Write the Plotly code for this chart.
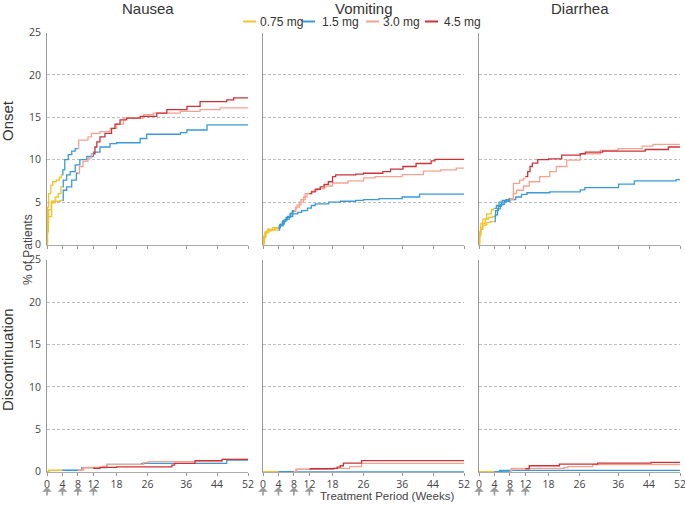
import plotly.graph_objects as go

# ---------------- data (weeks, cumulative % of patients) ----------------
WEEK_TICKS = [0, 4, 8, 12, 18, 26, 36, 44, 52]
Y_TICKS = [0, 5, 10, 15, 20, 25]
SYMPTOMS = ["Nausea", "Vomiting", "Diarrhea"]
ROWS = ["Onset", "Discontinuation"]
DOSES = ["0.75 mg", "1.5 mg", "3.0 mg", "4.5 mg"]
DOSE_START_WEEK = [0, 4, 8, 12]          # escalation schedule
DOSE_COLORS = ["#F2C32A", "#3A9AD6", "#F5A391", "#CB3338"]
ARM_TARGET = {"1.5": 1, "3.0": 2, "4.5": 3}  # index of final dose

# Nausea – onset
NAU_ON_15_WK = [0, 0.15, 0.35, 1.2, 2.1, 2.9, 3.6, 4.2, 5.1, 6.0, 7.3, 8.5, 10.3, 12.0, 13.7, 16.3, 18.0, 24.1, 25.8, 34.5, 36.2, 41.4, 52]
NAU_ON_15_PCT = [0, 1.5, 3.3, 4.9, 5.6, 6.0, 6.8, 7.6, 8.2, 8.6, 9.4, 10.0, 10.4, 10.9, 11.5, 11.9, 12.0, 12.5, 13.0, 13.2, 13.5, 14.1, 14.2]
NAU_ON_30_WK = [0, 0.05, 0.15, 0.4, 1.0, 1.5, 2.4, 3.2, 3.7, 4.1, 4.6, 5.5, 6.4, 7.3, 8.2, 10.6, 11.5, 13.7, 16.3, 18.0, 19.8, 25.0, 27.5, 34.5, 39.6, 44.8, 52]
NAU_ON_30_PCT = [0, 2.0, 4.4, 6.0, 7.0, 7.4, 7.6, 7.9, 8.2, 8.8, 10.0, 10.6, 11.0, 11.3, 12.3, 12.7, 13.1, 13.3, 13.7, 14.2, 14.9, 15.3, 15.5, 15.7, 15.9, 16.1, 16.1]
NAU_ON_45_WK = [0, 0.1, 0.4, 1.1, 3.5, 4.2, 5.1, 6.4, 7.6, 8.4, 9.3, 10.6, 11.5, 12.4, 12.9, 13.7, 15.0, 16.7, 17.6, 18.9, 20.6, 24.1, 28.4, 31.0, 36.2, 39.6, 46.5, 48.3, 52]
NAU_ON_45_PCT = [0, 2.1, 4.1, 5.1, 5.2, 6.4, 6.8, 7.6, 8.4, 9.2, 9.8, 10.2, 10.7, 11.5, 12.1, 12.7, 13.1, 13.7, 14.2, 14.7, 14.9, 15.1, 15.5, 15.9, 16.3, 16.85, 17.05, 17.3, 17.3]

# Nausea – discontinuation
NAU_DC_15_WK = [0, 0.5, 9.0, 15.5, 24.5, 46.5, 52]
NAU_DC_15_PCT = [0, 0.15, 0.47, 0.87, 0.98, 1.38, 1.38]
NAU_DC_30_WK = [0, 0.5, 8.3, 9.3, 14.5, 15.5, 25.0, 26.2, 45.3, 52]
NAU_DC_30_PCT = [0, 0.15, 0.2, 0.5, 0.65, 0.87, 1.06, 1.18, 1.46, 1.46]
NAU_DC_45_WK = [0, 0.5, 8.2, 9.5, 12.1, 13.7, 18.0, 32.3, 33.0, 38.3, 45.3, 52]
NAU_DC_45_PCT = [0, 0.15, 0.2, 0.45, 0.4, 0.5, 0.57, 0.78, 0.98, 1.3, 1.46, 1.42]

# Vomiting – onset
VOM_ON_15_WK = [0, 0.3, 0.6, 1.0, 2.0, 4.3, 5.0, 5.8, 6.8, 7.7, 9.0, 10.0, 11.5, 12.5, 13.5, 17.0, 20.0, 24.0, 26.0, 30.0, 36.0, 40.5, 52]
VOM_ON_15_PCT = [0, 0.8, 1.3, 1.6, 1.7, 2.3, 2.7, 3.0, 3.3, 3.6, 3.8, 4.0, 4.3, 4.6, 4.8, 5.0, 5.1, 5.2, 5.3, 5.4, 5.6, 5.95, 6.0]
VOM_ON_30_WK = [0, 0.2, 0.5, 1.2, 2.5, 4.5, 5.5, 6.3, 7.2, 7.8, 8.5, 8.8, 9.8, 10.9, 12.5, 13.9, 16.0, 18.0, 22.0, 26.0, 29.0, 36.0, 41.5, 46.0, 50.0, 52]
VOM_ON_30_PCT = [0, 1.0, 1.5, 1.8, 2.0, 2.4, 2.9, 3.3, 3.7, 3.9, 4.3, 4.65, 5.3, 6.0, 6.3, 6.6, 6.9, 7.25, 7.5, 7.85, 8.0, 8.25, 8.65, 8.8, 9.0, 9.0]
VOM_ON_45_WK = [0, 0.4, 0.8, 1.5, 3.0, 4.2, 5.2, 6.0, 7.0, 7.6, 8.4, 9.4, 10.5, 11.4, 12.6, 13.5, 14.8, 15.8, 16.9, 18.0, 18.8, 24.0, 26.0, 31.0, 33.0, 36.2, 39.6, 43.5, 44.5, 52]
VOM_ON_45_PCT = [0, 0.9, 1.4, 1.7, 1.9, 2.2, 2.8, 3.2, 3.6, 4.0, 4.4, 5.0, 5.6, 6.0, 6.2, 6.5, 6.8, 7.1, 7.4, 8.0, 8.2, 8.3, 8.4, 8.6, 8.9, 9.2, 9.55, 9.85, 10.05, 10.1]

# Vomiting – discontinuation
VOM_DC_15_WK = [0, 52]
VOM_DC_15_PCT = [0, 0]
VOM_DC_30_WK = [0, 8.5, 18.1, 22.4, 25.5, 52]
VOM_DC_30_PCT = [0, 0.3, 0.4, 0.6, 0.98, 0.98]
VOM_DC_45_WK = [0, 8.8, 12.4, 18.3, 19.2, 20.0, 20.8, 25.5, 52]
VOM_DC_45_PCT = [0, 0.3, 0.35, 0.4, 0.55, 0.7, 1.0, 1.3, 1.3]

# Diarrhea – onset
DIA_ON_15_WK = [0, 0.2, 0.5, 1.0, 2.0, 3.0, 4.2, 4.8, 5.5, 6.5, 8.0, 9.5, 11.0, 12.4, 18.3, 26.2, 27.4, 36.1, 40.2, 51.0, 52]
DIA_ON_15_PCT = [0, 1.2, 1.8, 2.3, 2.6, 2.7, 3.5, 4.2, 4.7, 5.1, 5.3, 5.6, 5.9, 6.1, 6.2, 6.43, 6.7, 7.13, 7.5, 7.65, 7.65]
DIA_ON_30_WK = [0, 0.15, 0.5, 1.0, 2.0, 3.2, 3.8, 4.5, 5.2, 6.0, 7.0, 7.8, 8.9, 9.7, 11.5, 13.0, 15.7, 18.3, 20.0, 22.7, 26.2, 31.4, 36.0, 42.2, 45.0, 52]
DIA_ON_30_PCT = [0, 1.5, 2.5, 3.0, 3.6, 4.1, 4.27, 4.6, 5.0, 5.2, 5.3, 5.4, 6.0, 6.4, 6.9, 7.4, 8.0, 8.6, 9.2, 9.96, 10.7, 11.1, 11.3, 11.6, 11.8, 11.9]
DIA_ON_45_WK = [0, 0.1, 0.4, 1.0, 1.6, 2.5, 3.5, 4.3, 5.0, 5.8, 6.8, 7.6, 8.9, 10.5, 11.5, 12.0, 12.6, 13.2, 13.8, 15.2, 18.0, 21.4, 26.2, 27.5, 32.0, 43.0, 49.0, 52]
DIA_ON_45_PCT = [0, 1.0, 2.0, 2.5, 3.0, 3.2, 3.3, 4.0, 4.5, 4.9, 5.1, 5.3, 7.2, 7.6, 7.8, 8.0, 8.6, 9.2, 9.6, 10.0, 10.1, 10.55, 10.7, 10.9, 11.0, 11.2, 11.5, 11.55]

# Diarrhea – discontinuation
DIA_DC_15_WK = [0, 5.3, 52]
DIA_DC_15_PCT = [0, 0.15, 0.15]
DIA_DC_30_WK = [0, 6.0, 8.5, 22.0, 23.0, 29.4, 52]
DIA_DC_30_PCT = [0, 0.1, 0.4, 0.47, 0.6, 0.85, 0.85]
DIA_DC_45_WK = [0, 8.3, 13.0, 20.8, 30.7, 44.5, 52]
DIA_DC_45_PCT = [0, 0.35, 0.7, 0.9, 1.0, 1.1, 1.1]

PANELS = {
    (0, 0): {"1.5": (NAU_ON_15_WK, NAU_ON_15_PCT), "3.0": (NAU_ON_30_WK, NAU_ON_30_PCT), "4.5": (NAU_ON_45_WK, NAU_ON_45_PCT)},
    (0, 1): {"1.5": (VOM_ON_15_WK, VOM_ON_15_PCT), "3.0": (VOM_ON_30_WK, VOM_ON_30_PCT), "4.5": (VOM_ON_45_WK, VOM_ON_45_PCT)},
    (0, 2): {"1.5": (DIA_ON_15_WK, DIA_ON_15_PCT), "3.0": (DIA_ON_30_WK, DIA_ON_30_PCT), "4.5": (DIA_ON_45_WK, DIA_ON_45_PCT)},
    (1, 0): {"1.5": (NAU_DC_15_WK, NAU_DC_15_PCT), "3.0": (NAU_DC_30_WK, NAU_DC_30_PCT), "4.5": (NAU_DC_45_WK, NAU_DC_45_PCT)},
    (1, 1): {"1.5": (VOM_DC_15_WK, VOM_DC_15_PCT), "3.0": (VOM_DC_30_WK, VOM_DC_30_PCT), "4.5": (VOM_DC_45_WK, VOM_DC_45_PCT)},
    (1, 2): {"1.5": (DIA_DC_15_WK, DIA_DC_15_PCT), "3.0": (DIA_DC_30_WK, DIA_DC_30_PCT), "4.5": (DIA_DC_45_WK, DIA_DC_45_PCT)},
}

# ---------------- layout geometry ----------------
W, H = 685, 505
COL_PX = [(47, 248), (263, 464), (479, 680)]
ROW_PX = [(32.5, 244.5), (259.7, 471.7)]


def px_x(a, b):
    return [a / W, b / W]


def px_y(top, bottom):
    return [1 - bottom / H, 1 - top / H]


def step_value(wk, pct, t):
    val = pct[0]
    for w, p in zip(wk, pct):
        if w <= t:
            val = p
    return val


def segment(wk, pct, s, e):
    xs, ys = [s], [step_value(wk, pct, s)]
    for w, p in zip(wk, pct):
        if s < w < e:
            xs.append(w)
            ys.append(p)
    xs.append(e)
    ys.append(ys[-1])
    return xs, ys


fig = go.Figure()
FONT = "Liberation Sans, Arial, sans-serif"
TICKFONT = dict(family="Open Sans, sans-serif", size=10.5, color="#444")

for (r, c), arms in PANELS.items():
    idx = r * 3 + c + 1
    xa = "x" if idx == 1 else f"x{idx}"
    ya = "y" if idx == 1 else f"y{idx}"
    for arm in ["1.5", "3.0", "4.5"]:
        wk, pct = arms[arm]
        last = ARM_TARGET[arm]
        for d in range(last + 1):
            s = DOSE_START_WEEK[d]
            e = DOSE_START_WEEK[d + 1] if d < last else 52
            xs, ys = segment(wk, pct, s, e)
            fig.add_trace(go.Scatter(
                x=xs, y=ys, mode="lines", line_shape="hv",
                line=dict(color=DOSE_COLORS[d], width=1.3),
                xaxis=xa, yaxis=ya, showlegend=False, hoverinfo="skip"))

    xkey = "xaxis" if idx == 1 else f"xaxis{idx}"
    ykey = "yaxis" if idx == 1 else f"yaxis{idx}"
    fig.update_layout({
        xkey: dict(domain=px_x(*COL_PX[c]), anchor=ya, range=[0, 52],
                   tickvals=WEEK_TICKS, showticklabels=(r == 1),
                   ticks="outside", ticklen=3, tickcolor="#999",
                   showline=True, linecolor="#aaa", linewidth=1,
                   showgrid=False, zeroline=False, tickfont=TICKFONT,
                   automargin=False, ticklabeloverflow="allow"),
        ykey: dict(domain=px_y(*ROW_PX[r]), anchor=xa, range=[0, 25],
                   tickvals=Y_TICKS, showticklabels=(c == 0),
                   showline=True, linecolor="#999", linewidth=1,
                   showgrid=True, gridcolor="#bdbdbd", griddash="3px,2px",
                   gridwidth=0.8, zeroline=False, tickfont=TICKFONT,
                   ticks="", ticklabelstandoff=3, automargin=False),
    })

annotations = []
TITLE_X = [148, 363.5, 580]
for name, cx in zip(SYMPTOMS, TITLE_X):
    annotations.append(dict(text=name, x=cx / W, y=1 - 8 / H, xref="paper", yref="paper",
                            showarrow=False, font=dict(family=FONT, size=15, color="#333"),
                            xanchor="center", yanchor="middle"))
annotations.append(dict(text=ROWS[0], x=7 / W, y=1 - 121 / H, xref="paper", yref="paper",
                        showarrow=False, textangle=-90, xanchor="center", yanchor="middle",
                        font=dict(family=FONT, size=15, color="#333")))
annotations.append(dict(text=ROWS[1], x=7 / W, y=1 - 360 / H, xref="paper", yref="paper",
                        showarrow=False, textangle=-90, xanchor="center", yanchor="middle",
                        font=dict(family=FONT, size=15, color="#333")))
annotations.append(dict(text="% of Patients", x=28 / W, y=1 - 250 / H, xref="paper", yref="paper",
                        showarrow=False, textangle=-90, xanchor="center", yanchor="middle",
                        font=dict(family=FONT, size=12, color="#444")))
annotations.append(dict(text="Treatment Period (Weeks)", x=387 / W, y=1 - 496 / H,
                        xref="paper", yref="paper", showarrow=False,
                        xanchor="center", yanchor="middle",
                        font=dict(family=FONT, size=11.5, color="#444")))

# escalation arrows under weeks 0, 4, 8, 12
for c in range(3):
    xa = f"x{4 + c}"
    for w in DOSE_START_WEEK:
        annotations.append(dict(x=w, y=1 - 487 / H, xref=xa, yref="paper", text="",
                                showarrow=True, arrowhead=1, arrowsize=1, arrowwidth=1.6,
                                arrowcolor="#9a9a9a", ax=0, ay=10))

# legend (drawn manually to match compact line samples)
LEG_LINE_X = [243, 302, 366, 425]
LEG_TEXT_X = [258, 320, 381, 442]
shapes = []
for d in range(4):
    shapes.append(dict(type="line", xref="paper", yref="paper",
                       x0=LEG_LINE_X[d] / W, x1=(LEG_LINE_X[d] + 13) / W,
                       y0=1 - 21.5 / H, y1=1 - 21.5 / H,
                       line=dict(color=DOSE_COLORS[d], width=2)))
    annotations.append(dict(text=DOSES[d], x=LEG_TEXT_X[d] / W, y=1 - 21.5 / H,
                            xref="paper", yref="paper", showarrow=False,
                            xanchor="left", yanchor="middle",
                            font=dict(family=FONT, size=12, color="#333")))

fig.update_layout(width=W, height=H, margin=dict(l=0, r=0, t=0, b=0, autoexpand=False),
                  template="none",
                  plot_bgcolor="white", paper_bgcolor="white",
                  annotations=annotations, shapes=shapes, showlegend=False)

fig.write_html("out.html", config={"displayModeBar": False},
               post_script="document.body.style.margin='0';document.body.style.padding='0';"
                           "document.body.style.overflow='hidden';")
